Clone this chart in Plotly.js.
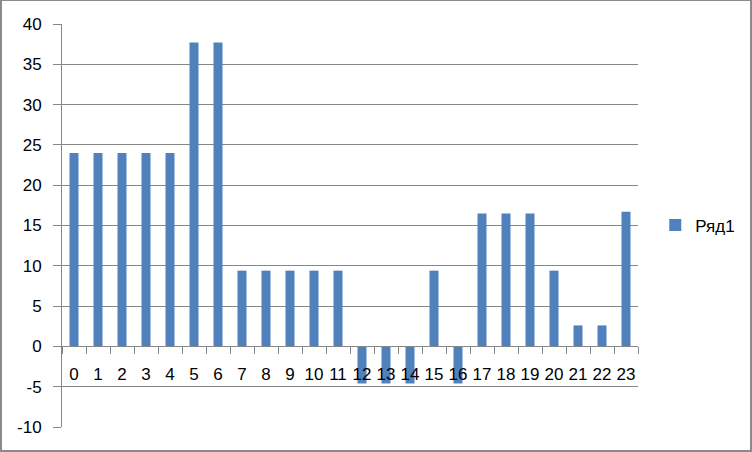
<!DOCTYPE html>
<html>
<head>
<meta charset="utf-8">
<script src="https://cdn.plot.ly/plotly-3.0.1.min.js"></script>
<style>
html,body{margin:0;padding:0;background:#fff;}
#wrap{position:relative;width:752px;height:452px;box-sizing:border-box;border-top:1px solid #8a8a8a;border-left:2px solid #8a8a8a;border-right:2px solid #8a8a8a;border-bottom:2px solid #8a8a8a;}
#chart{position:absolute;left:-2px;top:-1px;width:752px;height:452px;}
</style>
</head>
<body>
<div id="wrap"><div id="chart"></div></div>
<script>
const categories = ["0","1","2","3","4","5","6","7","8","9","10","11","12","13","14","15","16","17","18","19","20","21","22","23"];
const seriesName = "Ряд1";
const values = [24,24,24,24,24,37.7,37.7,9.4,9.4,9.4,9.4,9.4,-4.6,-4.6,-4.6,9.4,-4.6,16.5,16.5,16.5,9.4,2.6,2.6,16.7];
const yTicks = [-10,-5,0,5,10,15,20,25,30,35,40];

const fontFam = "Liberation Sans, Arial, sans-serif";
const trace = {
  type: "bar",
  x: categories,
  y: values,
  name: seriesName,
  marker: {color: "#4F81BD"},
  showlegend: true
};
const layout = {
  width: 752, height: 452,
  margin: {l: 62, r: 114, t: 24, b: 25, pad: 0},
  paper_bgcolor: "rgba(0,0,0,0)",
  plot_bgcolor: "rgba(0,0,0,0)",
  bargap: 0.625,
  font: {family: fontFam, size: 17, color: "#000"},
  xaxis: {
    type: "category",
    anchor: "free",
    position: 0.2,
    showline: true, linecolor: "#868686", linewidth: 1,
    ticks: "outside", tickson: "boundaries", ticklen: 7, tickcolor: "#868686",
    showgrid: false, zeroline: false,
    tickangle: 0,
    tickfont: {family: fontFam, size: 17, color: "#000"},
    ticklabelstandoff: 12
  },
  yaxis: {
    range: [-10, 40],
    tickvals: yTicks,
    ticktext: yTicks.map(String),
    showline: true, linecolor: "#868686", linewidth: 1,
    ticks: "outside", ticklen: 8, tickcolor: "#868686",
    showgrid: true, gridcolor: "#868686", gridwidth: 1,
    zeroline: false,
    tickfont: {family: fontFam, size: 17, color: "#000"},
    ticklabelstandoff: 8
  },
  showlegend: true,
  legend: {
    x: 1.03, xanchor: "left", y: 0.5, yanchor: "middle",
    font: {family: fontFam, size: 17, color: "#000"},
    bgcolor: "rgba(0,0,0,0)"
  }
};
Plotly.newPlot("chart", [trace], layout, {staticPlot: true});
</script>
</body>
</html>
